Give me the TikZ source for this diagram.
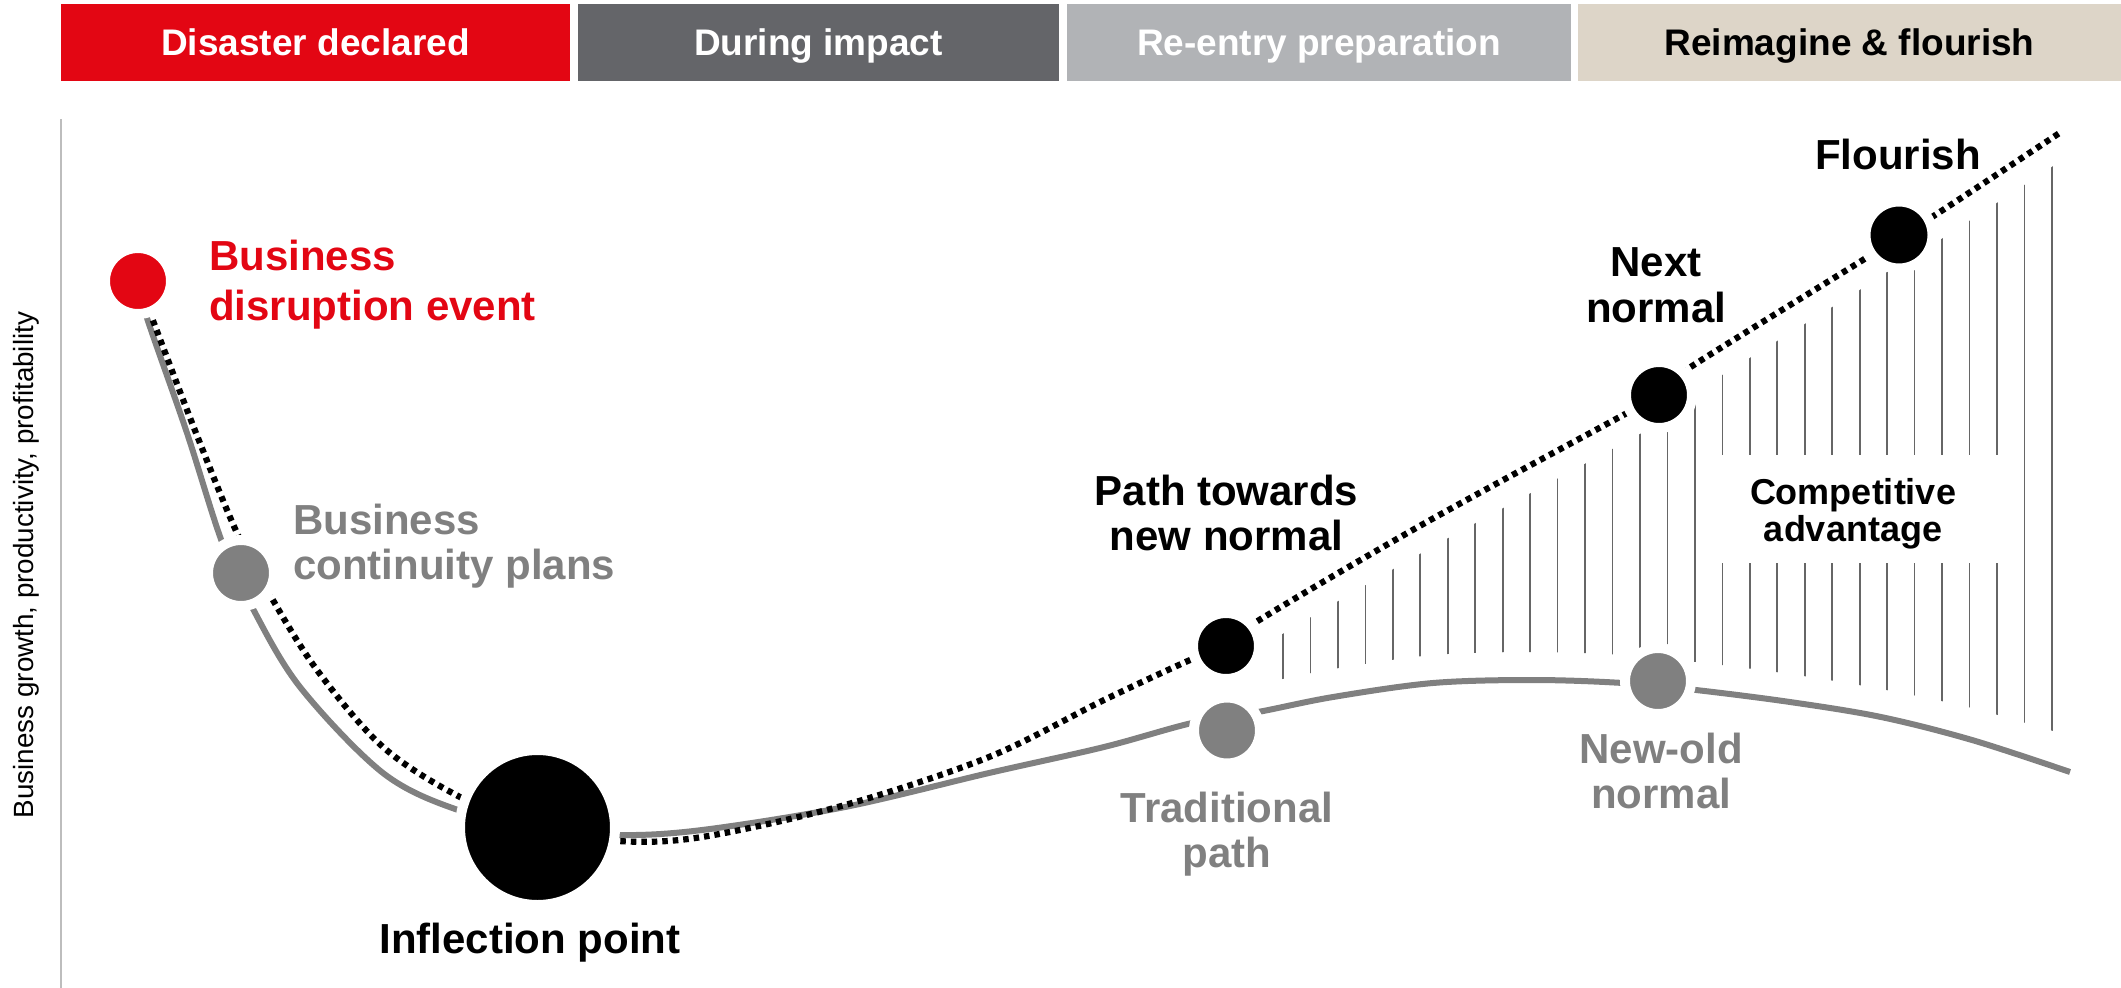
\documentclass[tikz,border=0pt]{standalone}
\usepackage{fontspec}
\setmainfont{Liberation Sans}

\pgfdeclarelayer{background}
\pgfsetlayers{background,main}

\definecolor{alertred}{HTML}{E30613}
\definecolor{darkbar}{HTML}{646569}
\definecolor{lightbar}{HTML}{B1B3B6}
\definecolor{sandbar}{HTML}{DDD5C8}
\definecolor{midgray}{HTML}{808080}
\definecolor{axisgray}{HTML}{BDBDBD}
\definecolor{hatchgray}{HTML}{666666}

\tikzset{
  phase/.style={inner sep=0pt, minimum height=77pt, text height=26.6pt, text depth=0pt,
    font=\fontsize{37pt}{40pt}\selectfont\bfseries},
  bullet/.style 2 args={circle, fill=#1, draw=white, line width=10pt,
    minimum size=2*#2+10pt, inner sep=0pt, outer sep=0pt},
  lbl/.style={inner sep=0pt, align=center, font=\fontsize{42pt}{45pt}\selectfont\bfseries},
  oldpath/.style={draw=midgray, line width=6pt},
  newpath/.style={draw=black, line width=6.2pt, dash pattern=on 5.5pt off 5pt},
  hatch/.style={draw=hatchgray, line width=1.7pt},
}

\begin{document}
\begin{tikzpicture}[x=1pt, y=-1pt]
\useasboundingbox (0,0) rectangle (2121,988);

% phase header bars
\node[phase, fill=alertred, text=white, minimum width=509pt] (ph1) at (315.5,42.5) {Disaster declared};
\node[phase, fill=darkbar,  text=white, minimum width=481pt] (ph2) at (818.5,42.5) {During impact};
\node[phase, fill=lightbar, text=white, minimum width=504pt] (ph3) at (1319,42.5) {Re-entry preparation};
\node[phase, fill=sandbar,  text=black, minimum width=543pt] (ph4) at (1849.5,42.5) {Reimagine \& flourish};

% vertical axis
\coordinate (axtop) at (61,119);
\coordinate (axbot) at (61,988);
\draw[axisgray, line width=2pt] (axtop) -- (axbot);
\node[rotate=90, anchor=base, inner sep=0pt, font=\fontsize{27.8pt}{30pt}\selectfont] (ylab) at (34,565)
  {Business growth, productivity, profitability};

% milestones
\node[bullet={alertred}{28}] (disrupt) at (138,281) {};
\node[bullet={midgray}{28}] (bcp) at (241,573) {};
\node[bullet={black}{72.5}] (inflect) at (537.5,827.5) {};
\node[bullet={black}{28}] (towards) at (1226,646) {};
\node[bullet={midgray}{28}] (trad) at (1227,730.5) {};
\node[bullet={midgray}{28}] (newold) at (1658,681) {};
\node[bullet={black}{28}] (next) at (1659,395) {};
\node[bullet={black}{28.5}] (flourish) at (1899,235) {};
\coordinate (oldend) at (2070,772);
\coordinate (newend) at (2061,132);

% labels
\node[lbl, anchor=north west, align=left, text=alertred,
  font=\fontsize{42pt}{50pt}\selectfont\bfseries] (disruptlbl) at (209,240) {Business\\disruption event};
\node[lbl, anchor=north west, align=left, text=midgray] (bcplbl) at (293,504) {Business\\continuity plans};
\node[lbl, anchor=north] (inflectlbl) at (530,923) {Inflection point};
\node[lbl, anchor=north] (towardslbl) at (1226.5,475) {Path towards\\new normal};
\node[lbl, anchor=north, text=midgray] (tradlbl) at (1227,792) {Traditional\\path};
\node[lbl, anchor=north, text=midgray] (newoldlbl) at (1661,733) {New-old\\normal};
\node[lbl, anchor=north, font=\fontsize{42pt}{46pt}\selectfont\bfseries] (nextlbl) at (1656,247) {Next\\normal};
\node[lbl, anchor=north] (flourishlbl) at (1898,139) {Flourish};
\node[fill=white, inner sep=0pt, minimum width=312pt, minimum height=108pt] (advbox) at (1853,509) {};
\node[lbl, anchor=north, font=\fontsize{36pt}{37pt}\selectfont\bfseries] (advlbl) at (1853,478) {Competitive\\advantage};

\begin{pgfonlayer}{background}
  % hatched band between the two paths
  \begin{scope}
    \clip plot[smooth, tension=0.5] coordinates {(1226,674) (1256,650) (1425,551) (1627,441) (1659,423)
        (1686,398) (1866,286) (1899,263) (1932,245) (2070,155)}
      -- plot[smooth, tension=0.5] coordinates {(2070,736) (1972,708) (1881,689) (1790,674) (1696,662)
        (1623,655) (1533,652) (1433,655) (1333,669) (1258,684) (1226,689)} -- cycle;
    \foreach \k in {0,...,28}
      \draw[hatch] ({1283+27.46*\k},100) -- ({1283+27.46*\k},900);
  \end{scope}

  % traditional path
  \draw[oldpath] plot[smooth, tension=0.55] coordinates {(disrupt.center) (147,318) (187,433) (222,542)
      (252,607) (300,687) (383,773) (458,810) (inflect.center)};
  \draw[oldpath] plot[smooth, tension=0.55] coordinates {(inflect.center) (618,835) (702,830) (845,807)
      (989,773) (1104,747) (1192,723) (1258,712) (1333,697) (1433,683) (1533,680) (1623,683)
      (1696,690) (1790,702) (1881,717) (1972,740) (oldend)};

  % path towards the new normal
  \draw[newpath] plot[smooth, tension=0.55] coordinates {(disrupt.center) (152,318) (196,433) (237,533)
      (270,595) (317,670) (383,747) (460,797) (inflect.center)};
  \draw[newpath] plot[smooth, tension=0.55] coordinates {(inflect.center) (618,841) (702,837) (845,805)
      (989,757) (1104,700) (1190,660) (towards.center) (1256,622) (1425,523) (1627,413) (next.center)
      (1686,370) (1866,258) (flourish.center) (1932,217) (newend)};
\end{pgfonlayer}
\end{tikzpicture}
\end{document}
